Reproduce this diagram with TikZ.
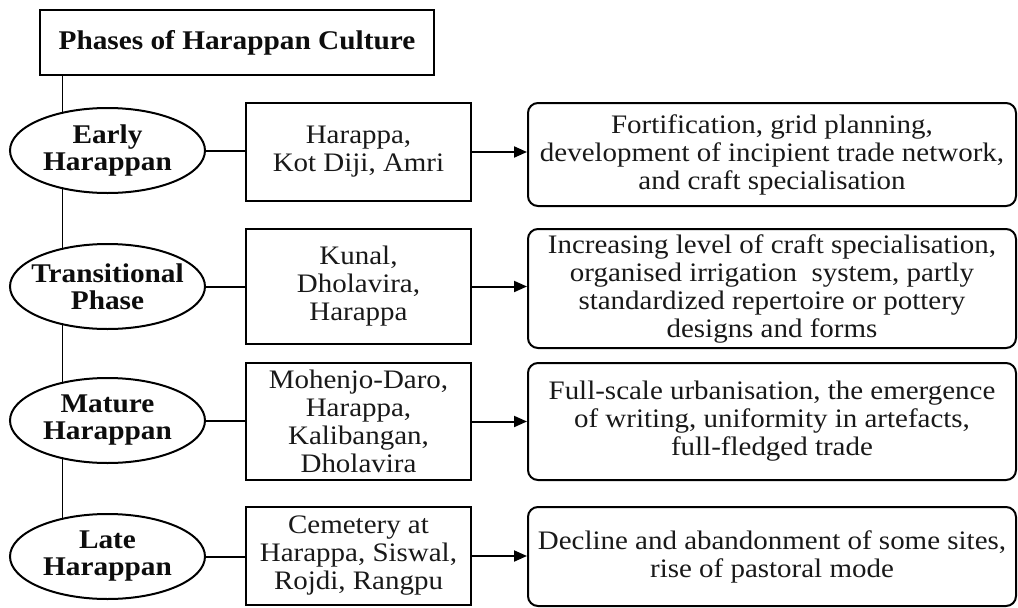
\documentclass[tikz,border=0pt]{standalone}
\usepackage{fontspec}
\setmainfont{Liberation Serif}[FakeStretch=1.085]
\usetikzlibrary{shapes.geometric,arrows.meta,backgrounds}
\begin{document}
\begin{tikzpicture}[x=1pt,y=-1pt,line width=2pt,
  txt/.style={font=\fontsize{26.7}{28}\selectfont,text=black!90,align=center},
  bld/.style={font=\fontsize{27}{27}\selectfont\bfseries,text=black!95,align=center},
  phase/.style={ellipse,draw,fill=white,minimum width=195,minimum height=85,inner sep=0pt},
  site/.style={rectangle,draw,fill=white,minimum width=225,inner sep=0pt,txt},
  desc/.style={rectangle,draw,fill=white,rounded corners=10pt,minimum width=488,inner sep=0pt,txt},
  arr/.style={-{Triangle[length=13pt,width=11pt]}}]
\useasboundingbox (0,0) rectangle (1018,608);
\node[draw,fill=white,minimum width=394,minimum height=65,inner sep=0pt,bld] (title) at (237,42.5) {Phases of Harappan Culture};
\node[phase,label={[bld]center:Early\\Harappan}] (p1) at (107.5,150.5) {};
\node[phase,label={[bld]center:Transitional\\Phase}] (p2) at (107.5,286.5) {};
\node[phase,label={[bld]center:Mature\\Harappan}] (p3) at (107.5,420.5) {};
\node[phase,label={[bld]center:Late\\Harappan}] (p4) at (107.5,556.5) {};
\node[site,minimum height=98] (s1) at (358.5,152) {Harappa,\\Kot Diji, Amri};
\node[site,minimum height=115] (s2) at (358.5,286.5) {Kunal,\\Dholavira,\\Harappa};
\node[site,minimum height=117] (s3) at (358.5,421.5) {Mohenjo-Daro,\\Harappa,\\Kalibangan,\\Dholavira};
\node[site,minimum height=98] (s4) at (358.5,556) {Cemetery at\\Harappa, Siswal,\\Rojdi, Rangpu};
\node[desc,minimum height=103] (d1) at (772,154.5) {Fortification, grid planning,\\development of incipient trade network,\\and craft specialisation};
\node[desc,minimum height=119] (d2) at (772,288.5) {Increasing level of craft specialisation,\\organised irrigation\ \ system, partly\\standardized repertoire or pottery\\designs and forms};
\node[desc,minimum height=117] (d3) at (772,421.5) {Full-scale urbanisation, the emergence\\of writing, uniformity in artefacts,\\full-fledged trade};
\node[desc,minimum height=99] (d4) at (772,556.5) {Decline and abandonment of some sites,\\rise of pastoral mode};
\coordinate (top) at ([xshift=23pt]title.south west);
\begin{scope}[on background layer]
\draw (top) -- (top |- p4.center);
\end{scope}
\foreach \i in {1,2,3,4}{
  \draw (p\i.east) -- (p\i.east -| s\i.west);
  \draw[arr] (s\i.east) -- (s\i.east -| d\i.west);
}
\end{tikzpicture}
\end{document}
